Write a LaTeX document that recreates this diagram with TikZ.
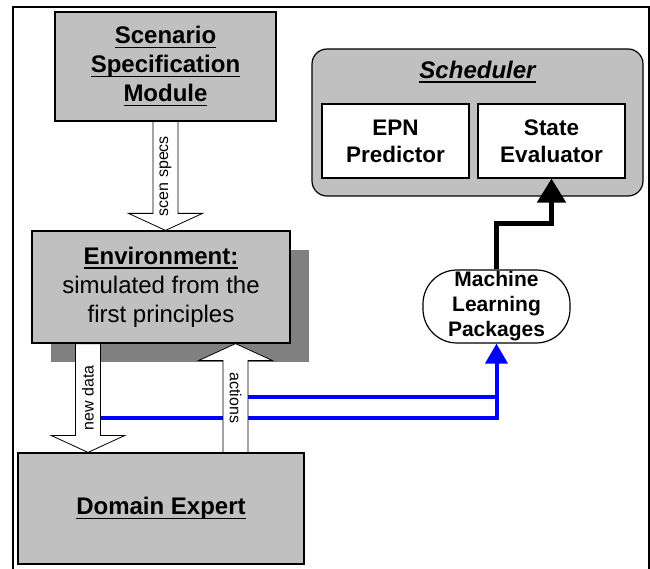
\documentclass[tikz,border=0pt]{standalone}
\usepackage{fontspec}
\setmainfont{Liberation Sans}
\usetikzlibrary{calc,shadows,arrows.meta}
\definecolor{boxgray}{RGB}{192,192,192}
\definecolor{shadowgray}{RGB}{128,128,128}
\definecolor{feedblue}{RGB}{0,0,255}
\newcommand{\ulword}[1]{\setbox0\hbox{#1}\rlap{\rule[-4.5pt]{\wd0}{1.6pt}}\box0}

\begin{document}
\begin{tikzpicture}[x=1pt,y=1pt,
  module/.style={draw,line width=1.2pt,fill=boxgray,inner sep=0pt,align=center,font=\fontsize{24}{29}\selectfont},
  part/.style={draw,line width=1.2pt,fill=white,inner sep=0pt,align=center,minimum width=147pt,minimum height=74pt,font=\bfseries\fontsize{22.5}{27}\selectfont},
  tag/.style={inner sep=0pt,font=\fontsize{16}{16}\selectfont},
  fat/.style={draw,fill=white,line width=0.8pt,to path={let \p1=(\tikztostart), \p2=(\tikztotarget), \p3=($(\p2)!17pt!(\p1)$) in
    (\x1-12.5pt,\y1) -- (\x1-12.5pt,\y3) -- (\x1-37pt,\y3) -- (\p2) -- (\x1+37pt,\y3) -- (\x1+12.5pt,\y3) -- (\x1+12.5pt,\y1) -- cycle}},
  feed/.style={feedblue,line width=4pt},
  train/.style={line width=5pt,-{Triangle[width=28pt,length=24pt]}}]
  \useasboundingbox (0,0) rectangle (650,568);
  \draw[line width=2.2pt] (13,-5) rectangle (649,561);

  \node[module,minimum width=221pt,minimum height=109pt] (scenario) at (165.5,501.5) {\textbf{\ulword{Scenario}}\\\textbf{\ulword{Specification}}\\\textbf{\ulword{Module}}};
  \node[module,minimum width=258pt,minimum height=112pt,drop shadow={shadow xshift=19pt,shadow yshift=-19pt,fill=shadowgray,opacity=1}] (environment) at (161,281) {\textbf{\ulword{Environment:}}\\simulated from the\\first principles};
  \node[module,minimum width=286pt,minimum height=111pt] (domain) at (161,59.5) {\textbf{\ulword{Domain Expert}}};

  \node[module,rounded corners=15pt,minimum width=331pt,minimum height=147pt] (scheduler) at (477.5,445.5) {};
  \node[font=\fontsize{24}{29}\selectfont] (scheduler title) at (477.5,496) {\textbf{\textit{\ulword{Scheduler}}}};
  \node[part] (epn) at (395.5,427) {EPN\\Predictor};
  \node[part] (state) at (551.5,427) {State\\Evaluator};
  \node[draw,line width=1.2pt,fill=white,rounded corners=34pt,minimum width=147pt,minimum height=73pt,inner sep=0pt,align=center,font=\bfseries\fontsize{21}{25}\selectfont] (ml) at (496.5,261.5) {Machine\\Learning\\Packages};

  % feeds into the learner
  \path (environment.south) ++(-60.5,-74) coordinate (data out);
  \path (domain.north) ++(85,55) coordinate (act out);
  \draw[feed] (act out) -- (act out -| ml.south);
  \draw[feed,-{Triangle[width=22pt,length=20pt]}] (data out) -| (ml.south);
  \draw[train] (ml.north) -- ++(0,46) -| (state.south);

  % block arrows
  \coordinate (specs tip) at (scenario.south |- environment.north);
  \draw[fat] (scenario.south) to (specs tip);
  \coordinate (data foot) at ($(environment.south)+(-73,0)$);
  \coordinate (data tip) at ($(domain.north)+(-73,0)$);
  \draw[fat] (data foot) to (data tip);
  \coordinate (act foot) at ($(domain.north)+(74.5,0)$);
  \coordinate (act tip) at ($(environment.south)+(74.5,0)$);
  \draw[fat] (act foot) to (act tip);

  \node[tag,rotate=90] (specs) at ($(scenario.south)!0.5!(specs tip)$) {scen specs};
  \node[tag,rotate=90] (new data) at ($(data foot)!0.5!(data tip)$) {new data};
  \node[tag,rotate=-90] (actions) at ($(act foot)!0.5!(act tip)$) {actions};
\end{tikzpicture}
\end{document}
